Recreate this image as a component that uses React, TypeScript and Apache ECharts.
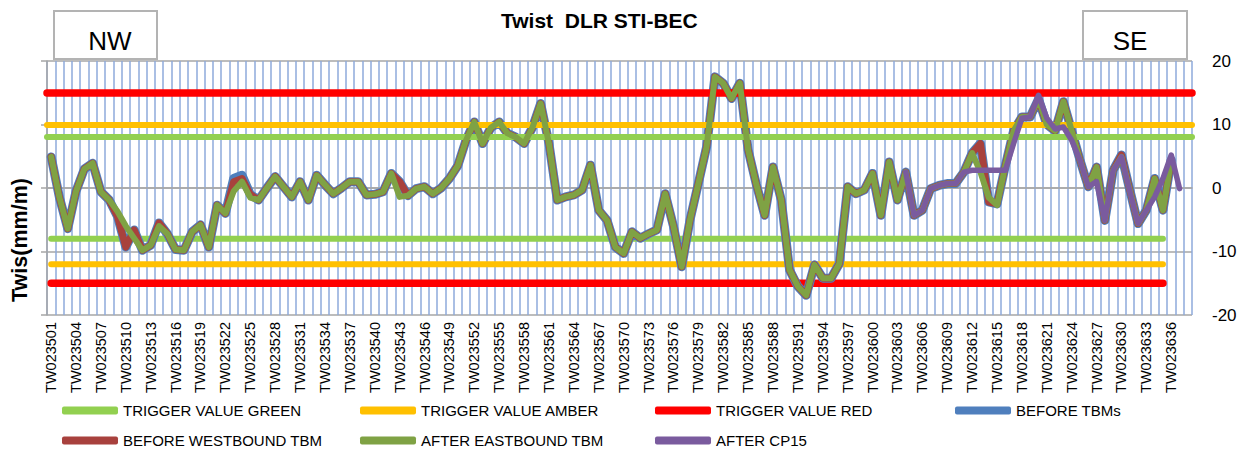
import React, { useEffect, useRef } from 'react';
import * as echarts from 'echarts';

// ---------- DATA ----------
const FIRST_STATION = 3501;
const LAST_STATION = 3638;
const categories: string[] = [];
for (let n = FIRST_STATION; n <= LAST_STATION; n++) categories.push('TW02' + n);

// Trigger levels (mm/m)
const TRIGGER_GREEN_UPPER = 8;
const TRIGGER_GREEN_LOWER = -8;
const TRIGGER_AMBER_UPPER = 10;
const TRIGGER_AMBER_LOWER = -12;
const TRIGGER_RED_UPPER = 15;
const TRIGGER_RED_LOWER = -15;
const LOWER_TRIGGER_LAST_INDEX = 134; // lower trigger lines stop at TW023635

// AFTER EASTBOUND TBM (TW023501 .. TW023636)
const afterEastbound: number[] = [
  4.9, -1.5, -6.4, -0.5, 3.0, 3.9, -0.6, -1.9, -3.7, -6.0,
  -7.9, -9.8, -9.0, -6.0, -7.2, -9.7, -9.8, -6.9, -5.8, -9.3,
  -2.7, -4.0, -0.5, 1.0, -1.5, -1.9, 0.0, 1.8, 0.2, -1.4,
  1.0, -1.9, 2.0, 0.5, -0.9, 0.0, 1.0, 1.0, -1.1, -1.0,
  -0.6, 2.3, -1.4, -1.2, -0.1, 0.2, -0.9, 0.0, 1.5, 3.5,
  7.5, 10.4, 7.0, 9.5, 10.4, 8.6, 8.0, 7.0, 9.5, 13.3,
  7.0, -1.9, -1.4, -1.1, -0.3, 3.6, -3.5, -5.1, -9.3, -10.3,
  -6.9, -7.9, -7.2, -6.6, -0.9, -6.0, -12.4, -5.0, 0.7, 6.5,
  17.5, 16.5, 14.1, 16.5, 6.0, 0.5, -4.3, 3.3, -1.9, -12.9,
  -15.5, -16.9, -12.1, -14.2, -14.2, -11.9, 0.2, -0.9, -0.3, 2.3,
  -4.3, 4.1, -1.9, 2.5, -4.3, -3.5, -0.1, 0.4, 0.7, 0.7,
  2.5, 5.5, 2.5, -1.5, -2.7, 3.5, 9.0, 11.2, 11.2, 14.0,
  10.0, 9.0, 13.6, 9.0, 4.4, 0.2, 3.3, -5.1, 2.8, 4.9,
  -0.3, -5.6, -3.5, 1.5, -3.5, 4.4,
];

// BEFORE WESTBOUND TBM (TW023501 .. TW023636)
const beforeWestbound: number[] = [
  4.9, -1.5, -6.4, -0.5, 3.0, 3.9, -0.6, -1.9, -4.5, -9.3,
  -6.6, -9.8, -9.0, -5.5, -7.2, -9.7, -9.8, -6.9, -5.8, -9.3,
  -2.7, -4.0, 1.0, 1.5, -1.0, -1.9, 0.0, 1.8, 0.2, -1.4,
  1.0, -1.9, 2.0, 0.5, -0.9, 0.0, 1.0, 1.0, -1.1, -1.0,
  -0.6, 2.3, 1.0, -1.2, -0.1, 0.2, -0.9, 0.0, 1.5, 3.5,
  7.5, 10.4, 7.0, 9.5, 10.4, 8.6, 8.0, 7.0, 9.5, 13.3,
  7.0, -1.9, -1.4, -1.1, -0.3, 3.6, -3.5, -5.1, -9.3, -10.3,
  -6.9, -7.9, -7.2, -6.6, -0.9, -6.0, -12.4, -5.0, 0.7, 6.5,
  17.5, 16.5, 14.1, 16.5, 6.0, 0.5, -4.3, 3.3, -1.9, -12.9,
  -15.5, -16.9, -12.1, -14.2, -14.2, -11.9, 0.2, -0.9, -0.3, 2.3,
  -4.3, 4.1, -1.9, 2.5, -4.3, -3.5, -0.1, 0.4, 0.7, 0.7,
  2.5, 5.5, 7.0, -2.2, -2.5, 3.5, 9.0, 11.2, 11.2, 14.0,
  10.0, 9.0, 13.6, 9.0, 4.4, 0.2, 3.3, -5.1, 2.8, 5.2,
  -0.3, -5.6, -3.5, 1.5, -3.5, 4.4,
];

// BEFORE TBMs (TW023501 .. TW023636)
const beforeTBMs: number[] = [
  4.9, -1.5, -6.4, -0.5, 3.0, 3.9, -0.6, -1.9, -4.5, -9.3,
  -6.6, -9.8, -9.0, -5.5, -7.2, -9.7, -9.8, -6.9, -5.8, -9.3,
  -2.7, -4.0, 1.5, 2.0, -1.0, -1.9, 0.0, 1.8, 0.2, -1.4,
  1.0, -1.9, 2.0, 0.5, -0.9, 0.0, 1.0, 1.0, -1.1, -1.0,
  -0.6, 2.3, 1.0, -1.2, -0.1, 0.2, -0.9, 0.0, 1.5, 3.5,
  7.5, 10.4, 7.0, 9.5, 10.4, 8.6, 8.0, 7.0, 9.5, 13.3,
  7.0, -1.9, -1.4, -1.1, -0.3, 3.6, -3.5, -5.1, -9.3, -10.3,
  -6.9, -7.9, -7.2, -6.6, -0.9, -6.0, -12.4, -5.0, 0.7, 6.5,
  17.5, 16.5, 14.1, 16.5, 6.0, 0.5, -4.3, 3.3, -1.9, -12.9,
  -15.5, -16.9, -12.1, -14.2, -14.2, -11.9, 0.2, -0.9, -0.3, 2.3,
  -4.3, 4.1, -1.9, 2.5, -4.3, -3.5, -0.1, 0.4, 0.7, 0.7,
  2.5, 5.5, 7.0, -2.2, -2.5, 3.5, 9.0, 11.2, 11.2, 14.0,
  10.0, 9.0, 13.6, 9.0, 4.4, 0.2, 3.3, -5.1, 2.8, 5.2,
  -0.3, -5.6, -3.5, 1.5, -3.5, 4.4,
];

// AFTER CP15 (starts at TW023604, ends at TW023637)
const AFTER_CP15_START_INDEX = 103;
const afterCP15: number[] = [
  2.5, -4.3, -3.5, -0.1, 0.4, 0.7, 0.7, 2.5, 2.8, 2.8,
  2.8, 2.8, 2.8, 7.0, 11.0, 11.2, 14.6, 11.0, 9.3, 9.6,
  7.5, 4.4, 0.2, 1.0, -5.1, 2.8, 4.9, -0.5, -5.6, -3.5,
  -1.4, 1.5, 5.2, -0.1,
];

const Y_TICKS = [-20, -10, 0, 10, 20];

// ---------- STYLE ----------
const FONT = '"Liberation Sans", Arial, sans-serif';
const C_GREEN = '#92d050';
const C_AMBER = '#ffc000';
const C_RED = '#ff0000';
const C_BLUE = '#4f7fbd';
const C_BROWN = '#a8413d';
const C_OLIVE = '#7fa244';
const C_PURPLE = '#7a5b9e';

function lowerLine(v: number) {
  return categories.map((_, i) => (i <= LOWER_TRIGGER_LAST_INDEX ? v : null));
}
function padded(values: number[], start: number) {
  return categories.map((_, i) => (i >= start && i - start < values.length ? values[i - start] : null));
}

function triggerSeries(name: string, color: string, width: number, upper: number, lower: number) {
  return {
    name,
    type: 'line',
    data: lowerLine(lower),
    symbol: 'none',
    z: 2,
    silent: true,
    itemStyle: { color },
    lineStyle: { color, width, cap: 'round' },
    emphasis: { disabled: true },
    markLine: {
      silent: true,
      symbol: ['none', 'none'],
      label: { show: false },
      emphasis: { disabled: true },
      lineStyle: { color, width, type: 'solid', cap: 'round' },
      data: [{ yAxis: upper }],
    },
  };
}

function dataSeries(name: string, color: string, width: number, data: (number | null)[], z: number) {
  return {
    name,
    type: 'line',
    data,
    symbol: 'none',
    z,
    itemStyle: { color },
    lineStyle: { color, width, join: 'round', cap: 'round' },
    emphasis: { disabled: true },
  };
}

const legendItems: [string, number, number][] = [
  ['TRIGGER VALUE GREEN', 62, 403],
  ['TRIGGER VALUE AMBER', 360, 403],
  ['TRIGGER VALUE RED', 655, 403],
  ['BEFORE TBMs', 955, 403],
  ['BEFORE WESTBOUND TBM', 62, 433],
  ['AFTER EASTBOUND TBM', 360, 433],
  ['AFTER CP15', 655, 433],
];

export default function App() {
  const ref = useRef<HTMLDivElement>(null);
  useEffect(() => {
    if (!ref.current) return;
    const chart = echarts.init(ref.current, undefined, { renderer: 'svg' });
    const option: any = {
      animation: false,
      backgroundColor: '#ffffff',
      title: {
        text: 'Twist  DLR STI-BEC',
        left: 496,
        top: 5,
        textStyle: { fontSize: 21, fontWeight: 'bold', fontFamily: FONT, color: '#000' },
      },
      grid: { left: 47, top: 61, width: 1145, height: 254, containLabel: false },
      xAxis: {
        type: 'category',
        data: categories,
        boundaryGap: true,
        axisLine: { show: true, lineStyle: { color: '#a6a6a6', width: 1.5 } },
        axisTick: { show: false },
        splitLine: { show: true, interval: 0, lineStyle: { color: '#8eaadb', width: 1.5 } },
        axisLabel: { interval: 2, rotate: 90, fontSize: 14.5, margin: 7, color: '#000', fontFamily: FONT },
      },
      yAxis: [
        {
          type: 'value',
          min: Y_TICKS[0],
          max: Y_TICKS[Y_TICKS.length - 1],
          interval: 10,
          position: 'left',
          axisLine: { show: true, lineStyle: { color: '#a6a6a6', width: 1.5 } },
          axisTick: { show: true, length: 6, lineStyle: { color: '#a6a6a6', width: 1.5 } },
          axisLabel: { show: false },
          splitLine: { show: true, lineStyle: { color: '#a6a6a6', width: 1.5 } },
        },
        {
          type: 'value',
          min: Y_TICKS[0],
          max: Y_TICKS[Y_TICKS.length - 1],
          interval: 10,
          position: 'right',
          axisLine: { show: false },
          axisTick: { show: false },
          splitLine: { show: false },
          axisLabel: { fontSize: 17, color: '#000', margin: 20, fontFamily: FONT },
        },
      ],
      legend: legendItems.map(([name, left, top]) => ({
        data: [{ name, icon: 'roundRect' }],
        left,
        top,
        itemWidth: 56,
        itemHeight: 8,
        itemGap: 0,
        padding: 0,
        selectedMode: false,
        textStyle: { fontSize: 15, color: '#000', fontFamily: FONT },
      })),
      series: [
        triggerSeries('TRIGGER VALUE GREEN', C_GREEN, 6, TRIGGER_GREEN_UPPER, TRIGGER_GREEN_LOWER),
        triggerSeries('TRIGGER VALUE AMBER', C_AMBER, 6, TRIGGER_AMBER_UPPER, TRIGGER_AMBER_LOWER),
        triggerSeries('TRIGGER VALUE RED', C_RED, 7.5, TRIGGER_RED_UPPER, TRIGGER_RED_LOWER),
        dataSeries('BEFORE TBMs', C_BLUE, 9, beforeTBMs, 3),
        dataSeries('BEFORE WESTBOUND TBM', C_BROWN, 7, beforeWestbound, 4),
        dataSeries('AFTER EASTBOUND TBM', C_OLIVE, 6, afterEastbound, 5),
        dataSeries('AFTER CP15', C_PURPLE, 5.5, padded(afterCP15, AFTER_CP15_START_INDEX), 6),
      ],
      graphic: [
        {
          type: 'text',
          x: 20,
          y: 240,
          rotation: Math.PI / 2,
          style: {
            text: 'Twis(mm/m)',
            fontSize: 21.5,
            fontWeight: 'bold',
            fontFamily: FONT,
            fill: '#000',
            align: 'center',
            verticalAlign: 'middle',
          },
        },
        {
          type: 'group',
          children: [
            { type: 'rect', shape: { x: 54, y: 11, width: 103, height: 48 }, style: { fill: '#fff', stroke: '#b3b3b3', lineWidth: 2 } },
            { type: 'text', x: 110, y: 41, style: { text: 'NW', fontSize: 26, fontFamily: FONT, fill: '#000', align: 'center', verticalAlign: 'middle' } },
            { type: 'rect', shape: { x: 1083, y: 11, width: 104, height: 48 }, style: { fill: '#fff', stroke: '#b3b3b3', lineWidth: 2 } },
            { type: 'text', x: 1130, y: 41, style: { text: 'SE', fontSize: 26, fontFamily: FONT, fill: '#000', align: 'center', verticalAlign: 'middle' } },
          ],
        },
      ],
    };
    chart.setOption(option);
    return () => chart.dispose();
  }, []);
  return <div ref={ref} style={{ position: 'absolute', left: 0, top: 0, width: 1249, height: 455 }} />;
}
